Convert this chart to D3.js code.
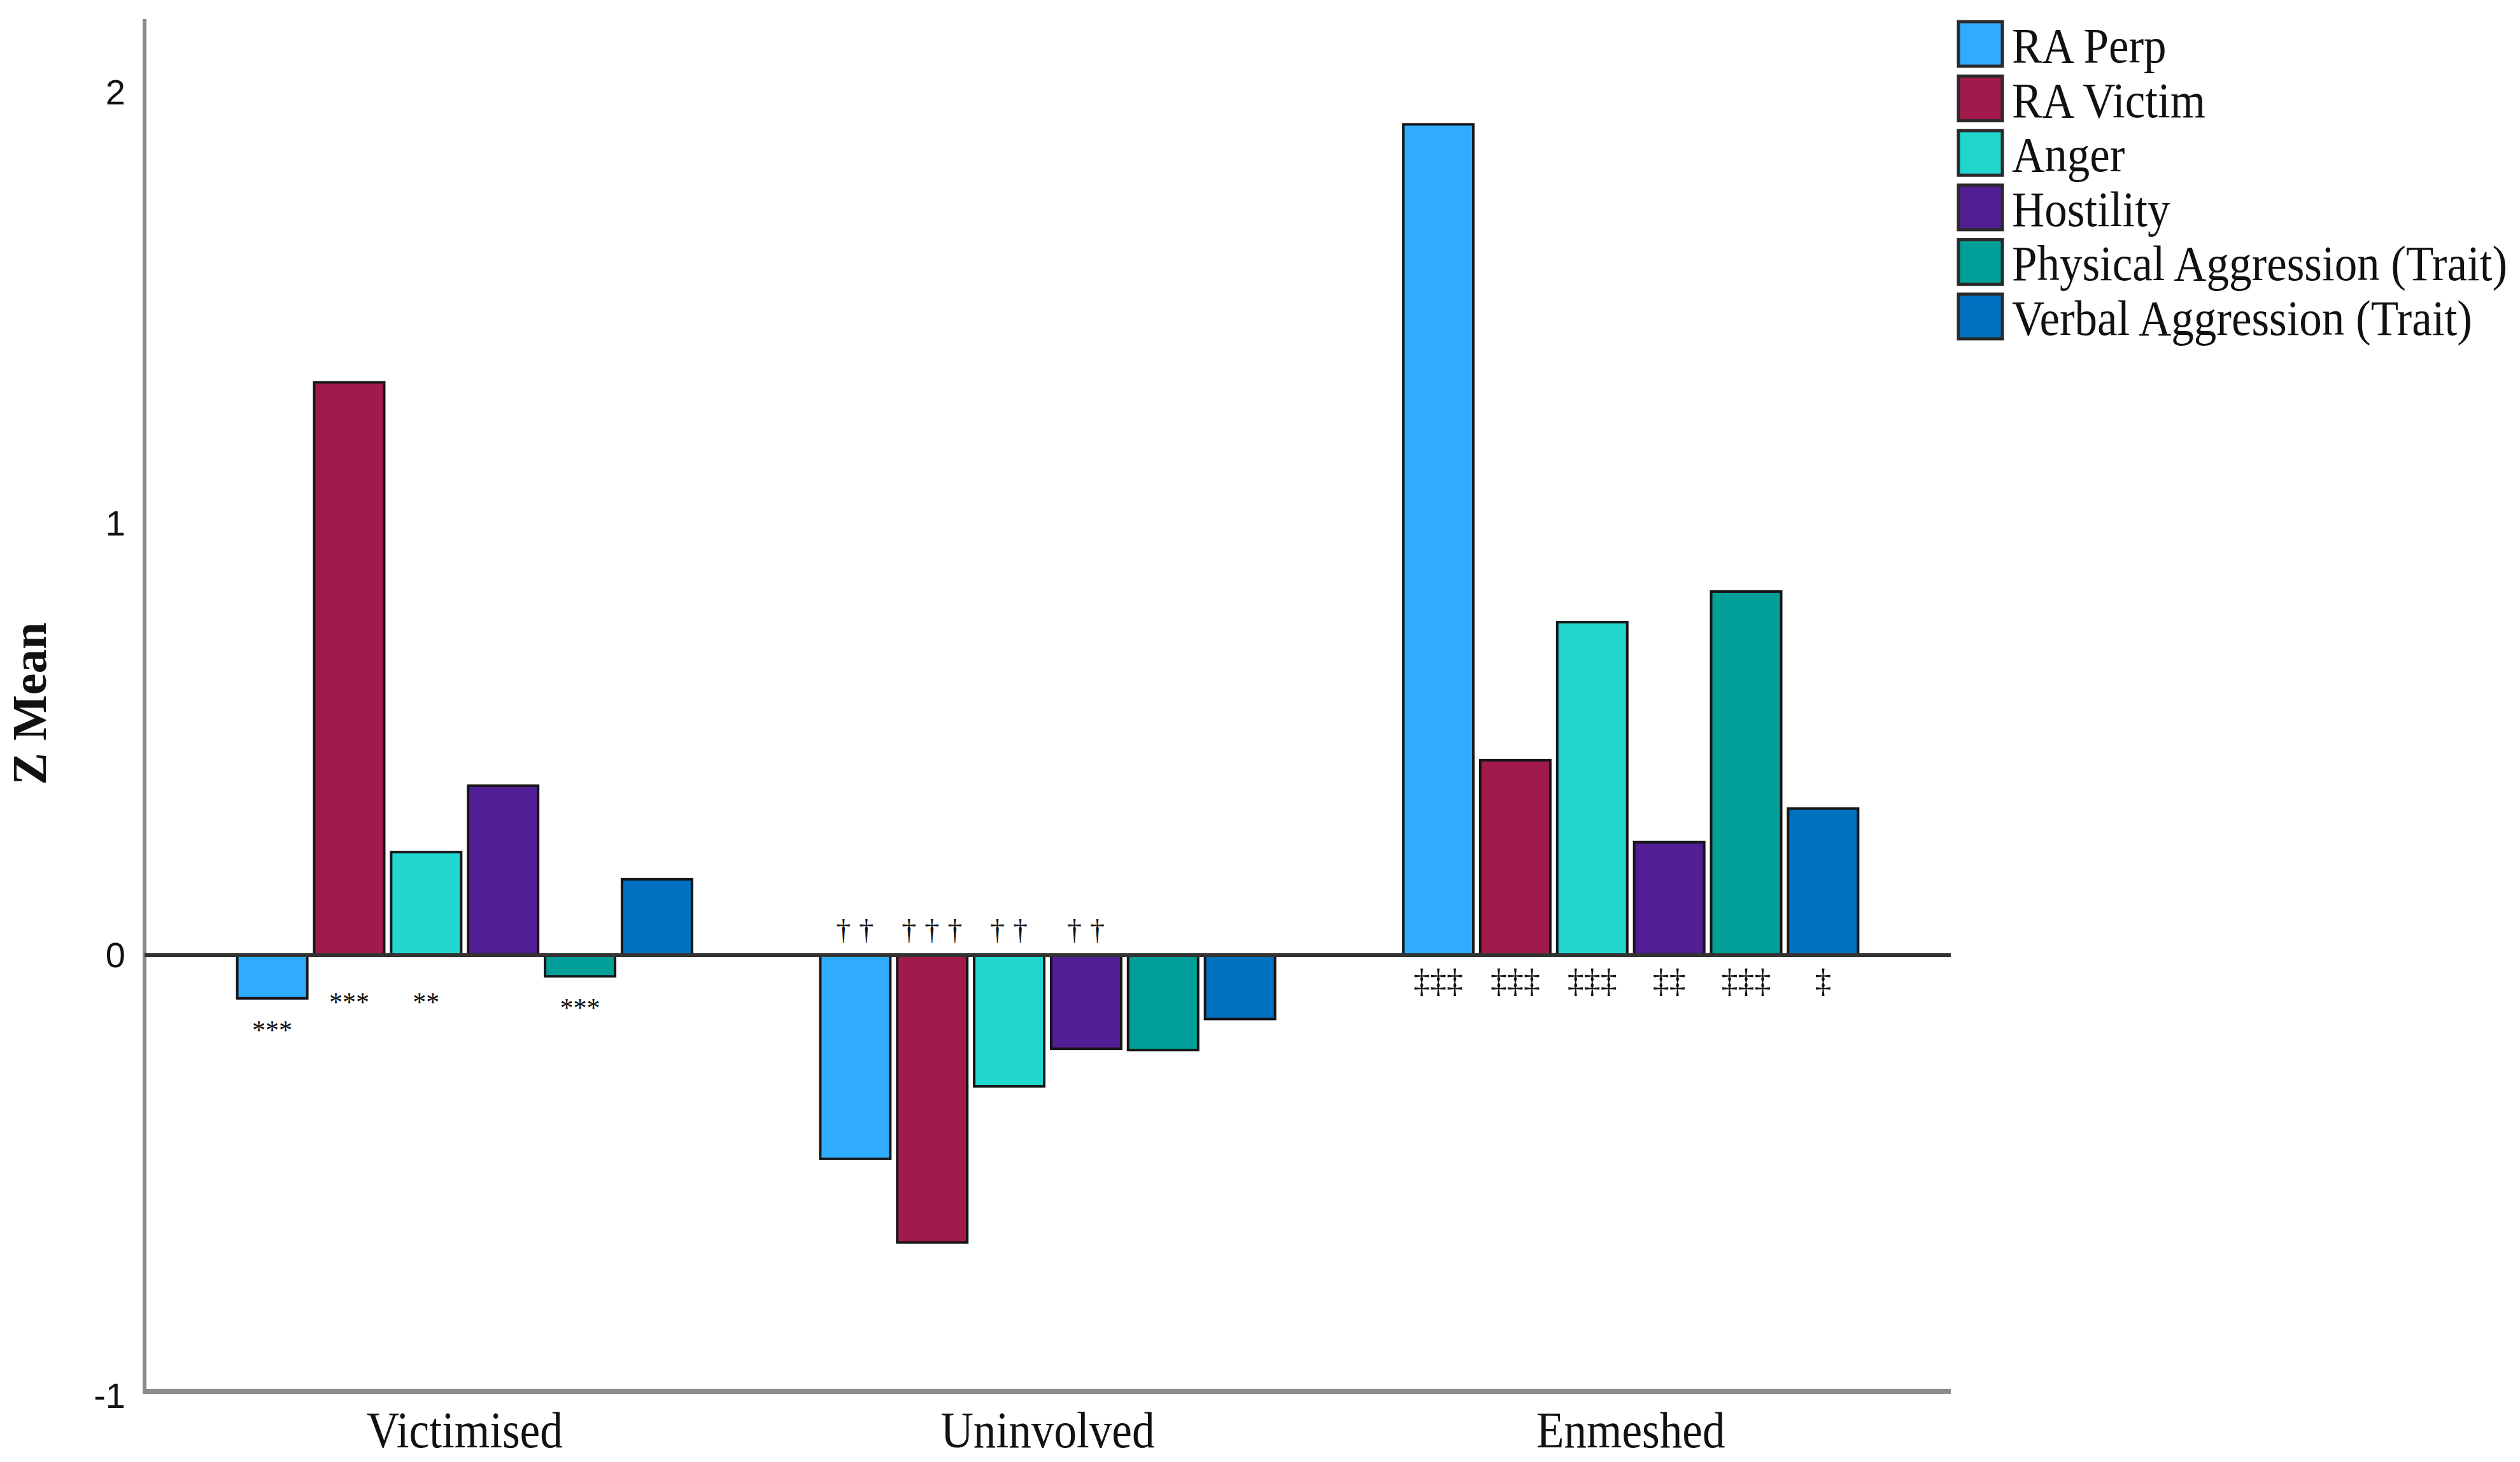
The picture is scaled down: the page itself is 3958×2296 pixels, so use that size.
<!DOCTYPE html>
<html>
<head>
<meta charset="utf-8">
<script src="https://cdn.jsdelivr.net/npm/d3@7"></script>
<style>
  html, body { margin: 0; padding: 0; background: #fff; }
  svg { display: block; }
</style>
</head>
<body>
<div id="chart"></div>
<script>
// Z means per cluster group, one array per measure
const groups = ["Victimised", "Uninvolved", "Enmeshed"];
const series = ["RA Perp", "RA Victim", "Anger", "Hostility", "Physical Aggression (Trait)", "Verbal Aggression (Trait)"];
const colors = ["#30acff", "#a2194d", "#22d6d0", "#521e95", "#019f98", "#0071c1"];

const raPerp    = [-0.10, -0.472, 1.926];
const raVictim  = [1.328, -0.666, 0.452];
const anger     = [0.239, -0.304, 0.772];
const hostility = [0.393, -0.217, 0.262];
const physical  = [-0.049, -0.220, 0.843];
const verbal    = [0.176, -0.148, 0.340];

// significance markers per group (in series order)
const marksVictimised = ["***", "***", "**", "", "***", ""];
const marksUninvolved = ["\u2020\u2020", "\u2020\u2020\u2020", "\u2020\u2020", "\u2020\u2020", "", ""];
const marksEnmeshed   = ["\u2021\u2021\u2021", "\u2021\u2021\u2021", "\u2021\u2021\u2021", "\u2021\u2021", "\u2021\u2021\u2021", "\u2021"];

const yTicks = [-1, 0, 1, 2];

const allValues = [raPerp, raVictim, anger, hostility, physical, verbal];
const allMarks = [marksVictimised, marksUninvolved, marksEnmeshed];

const W = 3958, H = 2296;
const plot = { left: 227, right: 3064, top: 30, bottom: 2185 };

const svg = d3.select("#chart").append("svg")
    .attr("width", W).attr("height", H)
    .attr("viewBox", `0 0 ${W} ${H}`);

const y = d3.scaleLinear().domain([-1.011, 2.17]).range([plot.bottom, plot.top]);
const x0 = d3.scaleBand().domain(groups).range([plot.left, plot.right])
    .paddingInner(0.22).paddingOuter(0.159);
const x1 = d3.scaleBand().domain(series).range([0, x0.bandwidth()]).paddingInner(0.09);

// flatten into bar records
const bars = [];
groups.forEach((g, gi) => {
    series.forEach((s, si) => {
        bars.push({ group: g, series: s, si, value: allValues[si][gi], mark: allMarks[gi][si] });
    });
});

// y axis line
svg.append("line")
    .attr("x1", plot.left).attr("x2", plot.left)
    .attr("y1", plot.top).attr("y2", plot.bottom + 4)
    .attr("stroke", "#8a8a8a").attr("stroke-width", 6);

// y tick labels (plain hyphen for negatives, as in the original)
const yAxis = svg.append("g")
    .attr("transform", `translate(${plot.left},0)`)
    .call(d3.axisLeft(y).tickValues(yTicks).tickSize(0).tickPadding(30).tickFormat(d => String(d)));
yAxis.select(".domain").remove();
yAxis.selectAll("text")
    .attr("font-family", "'Liberation Sans', Arial, sans-serif")
    .attr("font-size", 56)
    .attr("fill", "#111");
yAxis.selectAll(".tick").filter(d => d === -1).select("text").attr("dy", "0.58em");

// bars
svg.append("g")
    .selectAll("rect")
    .data(bars)
    .join("rect")
    .attr("x", d => x0(d.group) + x1(d.series))
    .attr("width", x1.bandwidth())
    .attr("y", d => y(Math.max(0, d.value)))
    .attr("height", d => Math.abs(y(d.value) - y(0)))
    .attr("fill", d => colors[d.si])
    .attr("stroke", "#161616")
    .attr("stroke-width", 4);

// zero reference line
svg.append("line")
    .attr("x1", plot.left).attr("x2", plot.right)
    .attr("y1", y(0)).attr("y2", y(0))
    .attr("stroke", "#333").attr("stroke-width", 6);

// x axis line
svg.append("line")
    .attr("x1", plot.left - 3).attr("x2", plot.right)
    .attr("y1", plot.bottom).attr("y2", plot.bottom)
    .attr("stroke", "#8c8c8c").attr("stroke-width", 8);

// category labels
const xAxis = svg.append("g")
    .attr("transform", `translate(0,${plot.bottom})`)
    .call(d3.axisBottom(x0).tickSize(0));
xAxis.select(".domain").remove();
xAxis.selectAll("text")
    .attr("font-family", "'Liberation Serif', 'Times New Roman', serif")
    .attr("font-size", 80)
    .attr("fill", "#111")
    .attr("y", 88).attr("dy", 0)
    .attr("transform", "scale(0.89,1)");

// significance markers
const markG = svg.append("g")
    .attr("font-family", "'Liberation Serif', 'Times New Roman', serif")
    .attr("fill", "#111")
    .attr("text-anchor", "middle");

markG.selectAll("text")
    .data(bars.filter(d => d.mark))
    .join("text")
    .attr("x", d => x0(d.group) + x1(d.series) + x1.bandwidth() / 2)
    .each(function(d) {
        const t = d3.select(this);
        const c = d.mark[0];
        if (c === "*") {
            const centre = y(Math.min(0, d.value)) + (d.value < 0 ? 43 : 67);
            t.attr("font-size", 42).attr("y", centre + 0.5 * 42);
        } else if (c === "\u2020") {
            const centre = y(0) - 37;
            t.attr("font-size", 46).attr("letter-spacing", 13).attr("y", centre + 0.27 * 46)
             .attr("dx", 6);
        } else {
            const centre = y(0) + 44;
            t.attr("font-size", 52).attr("y", centre + 0.27 * 52);
        }
    })
    .text(d => d.mark);

// y axis title
svg.append("text")
    .attr("transform", `translate(72,${1105}) rotate(-90)`)
    .attr("text-anchor", "middle")
    .attr("font-family", "'Liberation Serif', 'Times New Roman', serif")
    .attr("font-weight", "bold")
    .attr("font-size", 76)
    .attr("fill", "#111")
    .text("Z Mean");

// legend
const legend = svg.append("g").attr("transform", "translate(3076,34)");
const item = legend.selectAll("g")
    .data(series)
    .join("g")
    .attr("transform", (d, i) => `translate(0,${i * 85.6})`);
item.append("rect")
    .attr("width", 69).attr("height", 70)
    .attr("fill", (d, i) => colors[i])
    .attr("stroke", "#2a2a2a").attr("stroke-width", 5);
item.append("text")
    .attr("transform", "translate(84,64) scale(0.91,1)")
    .attr("font-family", "'Liberation Serif', 'Times New Roman', serif")
    .attr("font-size", 78)
    .attr("fill", "#111")
    .text(d => d);
</script>
</body>
</html>
